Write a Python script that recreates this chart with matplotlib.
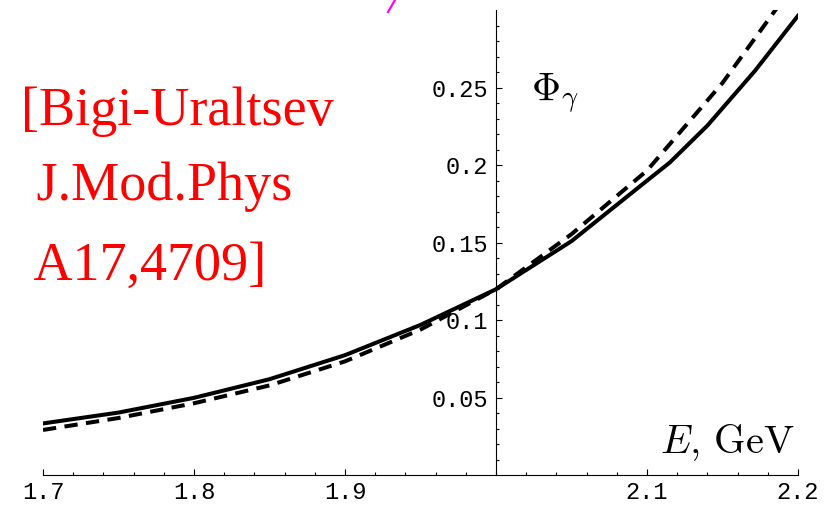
import matplotlib
matplotlib.use("Agg")
import matplotlib.pyplot as plt
from matplotlib.ticker import MultipleLocator, FixedLocator, FixedFormatter
from matplotlib.lines import Line2D

# ---- data ----
solid_E = [1.70, 1.75, 1.80, 1.85, 1.90, 1.95, 2.00, 2.05, 2.10, 2.115, 2.14, 2.1715, 2.20]
solid_phi = [0.0335, 0.0405, 0.0500, 0.0620, 0.0775, 0.0970, 0.1200, 0.1510, 0.1900, 0.2016, 0.2255, 0.2608, 0.2963]

dashed_E = [1.70, 1.75, 1.80, 1.85, 1.90, 1.95, 2.00, 2.05, 2.10, 2.15, 2.20]
dashed_phi = [0.0293, 0.0370, 0.0465, 0.0580, 0.0735, 0.0940, 0.1200, 0.1555, 0.1965, 0.2530, 0.3200]

x_ticks = [1.7, 1.8, 1.9, 2.1, 2.2]
x_ticklabels = ["1.7", "1.8", "1.9", "2.1", "2.2"]
y_ticks = [0.05, 0.10, 0.15, 0.20, 0.25]
y_ticklabels = ["0.05", "0.1", "0.15", "0.2", "0.25"]

W, H = 824, 507
fig = plt.figure(figsize=(W / 100, H / 100), dpi=100)
plt.rcParams['mathtext.fontset'] = 'cm'

ax = fig.add_axes([43 / W, (H - 475.4) / H, 755 / W, 465.4 / H])
ax.set_xlim(1.7, 2.2)
ax.set_ylim(0.0, 0.30)
ax.patch.set_visible(False)

lw = 2.9
ax.plot(solid_E, solid_phi, color='black', lw=lw, solid_joinstyle='round')
ax.plot(dashed_E, dashed_phi, color='black', lw=lw, dashes=(3.3, 2.1), dash_capstyle='butt')

for s in ('top', 'right'):
    ax.spines[s].set_visible(False)
ax.spines['left'].set_position(('data', 2.0))
ax.spines['bottom'].set_position(('data', 0.0))
for s in ('left', 'bottom'):
    ax.spines[s].set_linewidth(0.8)
    ax.spines[s].set_color('black')

ax.xaxis.set_major_locator(FixedLocator(x_ticks))
ax.xaxis.set_major_formatter(FixedFormatter(x_ticklabels))
ax.xaxis.set_minor_locator(MultipleLocator(0.02))
ax.yaxis.set_major_locator(FixedLocator(y_ticks))
ax.yaxis.set_major_formatter(FixedFormatter(y_ticklabels))
ax.yaxis.set_minor_locator(FixedLocator([i / 100 for i in range(1, 30) if i % 5 != 0]))

mono = 'Liberation Mono'
ax.tick_params(axis='both', which='major', direction='in', length=4.5, width=0.8,
               labelsize=17, color='black')
ax.tick_params(axis='both', which='minor', direction='in', length=2.5, width=0.8)
ax.tick_params(axis='y', which='major', pad=6)
ax.tick_params(axis='x', which='major', pad=4)
for lab in ax.get_xticklabels() + ax.get_yticklabels():
    lab.set_fontfamily(mono)

def fx(px):
    return px / W

def fy(py):
    return 1 - py / H

# axis labels
fig.text(fx(531), fy(100), r'$\Phi_\gamma$', fontsize=29, ha='left', va='baseline')
fig.text(fx(795), fy(453), r'$E,\,\mathrm{GeV}$', fontsize=29, ha='right', va='baseline')

# red reference annotation
red_kw = dict(fontsize=39, color='#ff0000', family='Liberation Serif', ha='left', va='baseline')
fig.text(fx(21), fy(125), '[Bigi-Uraltsev', **red_kw)
fig.text(fx(23), fy(200), ' J.Mod.Phys', **red_kw)
fig.text(fx(23), fy(280), ' A17,4709]', **red_kw)

# small magenta fragment at the top edge
fig.add_artist(Line2D([fx(395), fx(388)], [fy(0), fy(12)], color='#ff00ff', lw=1.6,
                      transform=fig.transFigure))

fig.savefig('out.png', dpi=100)
